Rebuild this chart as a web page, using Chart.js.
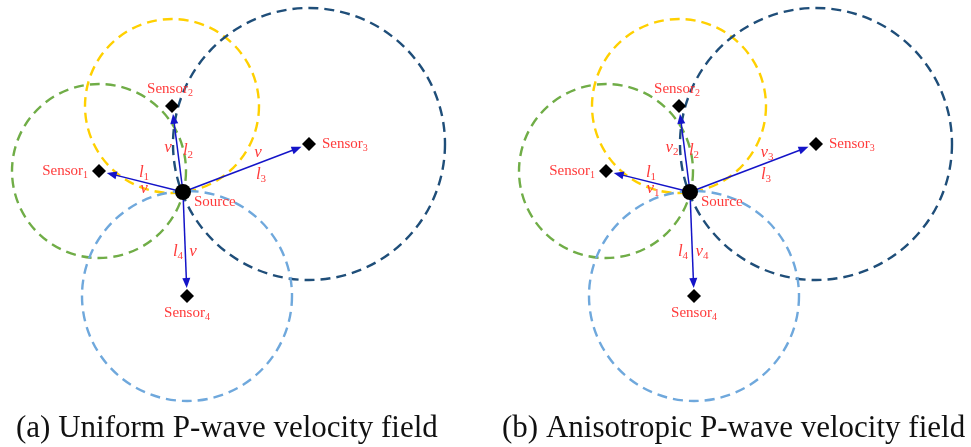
<!DOCTYPE html>
<html>
<head>
<meta charset="utf-8">
<script src="https://cdn.jsdelivr.net/npm/chart.js@4.4.1/dist/chart.umd.min.js"></script>
<style>
  html, body { margin: 0; padding: 0; background: #fff; }
  #wrap { display: flex; width: 971px; height: 447px; }
  canvas { display: block; }
</style>
</head>
<body>
<div id="wrap">
  <canvas id="chartA" width="485" height="447"></canvas>
  <canvas id="chartB" width="486" height="447"></canvas>
</div>
<script>
// sensor layout, source at origin (y up)
const sensorNames = ['Sensor', 'Sensor', 'Sensor', 'Sensor'];
const sensorSubs = ['1', '2', '3', '4'];
const sensorX = [-84, -11, 126, 4];
const sensorY = [21, 86, 48, -104];
const sourceX = [0];
const sourceY = [0];
// wavefront circle radius around each sensor
const circleR = [87, 87, 136, 105];
const circleColors = ['#70ad47', '#ffd000', '#1f4e79', '#6fa8dc'];
// path / velocity labels
const pathLabels = ['l', 'l', 'l', 'l'];
const pathSubs = ['1', '2', '3', '4'];
const velLabelsA = ['v', 'v', 'v', 'v'];
const velSubsA = ['', '', '', ''];
const velLabelsB = ['v', 'v', 'v', 'v'];
const velSubsB = ['1', '2', '3', '4'];
const captions = ['(a) Uniform P-wave velocity field', '(b) Anisotropic P-wave velocity field'];

const RED = '#ff3b3b';
const BLUE = '#1414c8';
const SERIF = '"Liberation Serif", "Times New Roman", serif';

// pixel offsets of the labels (relative to source / sensor pixels)
const pathOffA = [[-39, -19], [5, -41], [78, -17], [-5, 60]];
const velOffA = [[-39, -3], [-15, -44], [75, -39], [10, 60]];
const pathOffB = [[-39, -19], [4, -41], [76, -17], [-7, 60]];
const velOffB = [[-37, -3], [-18, -44], [77, -39], [12, 60]];
const sensorLabelOff = [[-11, 0, 'right'], [-2, -17, 'center'], [13, 0, 'left'], [0, 17, 'center']];

function drawSub(ctx, base, sub, x, y, baseFont, subFont, align) {
  ctx.font = baseFont;
  const w1 = ctx.measureText(base).width;
  ctx.font = subFont;
  const w2 = sub ? ctx.measureText(sub).width : 0;
  const w = w1 + w2;
  let left = x;
  if (align === 'center') left = x - w / 2;
  else if (align === 'right') left = x - w;
  ctx.textAlign = 'left';
  ctx.textBaseline = 'middle';
  ctx.font = baseFont;
  ctx.fillText(base, left, y);
  if (sub) {
    ctx.font = subFont;
    ctx.fillText(sub, left + w1, y + 4);
  }
}

const diagramPlugin = {
  id: 'diagram',
  beforeDatasetsDraw(chart) {
    const { ctx, scales: { x, y } } = chart;
    const sx = x.getPixelForValue(sourceX[0]);
    const sy = y.getPixelForValue(sourceY[0]);
    ctx.save();
    // dashed circles
    ctx.lineWidth = 2.4;
    ctx.setLineDash([10, 6]);
    circleR.forEach((r, i) => {
      const cx = x.getPixelForValue(sensorX[i]);
      const cy = y.getPixelForValue(sensorY[i]);
      const rx = Math.abs(x.getPixelForValue(sensorX[i] + r) - cx);
      const ry = Math.abs(y.getPixelForValue(sensorY[i] + r) - cy);
      ctx.strokeStyle = circleColors[i];
      ctx.beginPath();
      ctx.ellipse(cx, cy, rx, ry, 0, 0, Math.PI * 2);
      ctx.stroke();
    });
    // arrows
    ctx.setLineDash([]);
    ctx.strokeStyle = BLUE;
    ctx.fillStyle = BLUE;
    ctx.lineWidth = 1.5;
    sensorX.forEach((v, i) => {
      const ex = x.getPixelForValue(v);
      const ey = y.getPixelForValue(sensorY[i]);
      const a = Math.atan2(ey - sy, ex - sx);
      const tx = ex - Math.cos(a) * 8;
      const ty = ey - Math.sin(a) * 8;
      ctx.beginPath();
      ctx.moveTo(sx, sy);
      ctx.lineTo(tx - Math.cos(a) * 6, ty - Math.sin(a) * 6);
      ctx.stroke();
      ctx.beginPath();
      ctx.moveTo(tx, ty);
      ctx.lineTo(tx - Math.cos(a) * 10 + Math.sin(a) * 4, ty - Math.sin(a) * 10 - Math.cos(a) * 4);
      ctx.lineTo(tx - Math.cos(a) * 10 - Math.sin(a) * 4, ty - Math.sin(a) * 10 + Math.cos(a) * 4);
      ctx.closePath();
      ctx.fill();
    });
    ctx.restore();
  },
  afterDatasetsDraw(chart, args, opts) {
    const { ctx, scales: { x, y } } = chart;
    const sx = x.getPixelForValue(sourceX[0]);
    const sy = y.getPixelForValue(sourceY[0]);
    ctx.save();
    ctx.fillStyle = RED;
    const plain = '15px ' + SERIF;
    const small = '10px ' + SERIF;
    sensorNames.forEach((n, i) => {
      const px = x.getPixelForValue(sensorX[i]);
      const py = y.getPixelForValue(sensorY[i]);
      const o = sensorLabelOff[i];
      drawSub(ctx, n, sensorSubs[i], px + o[0], py + o[1], plain, small, o[2]);
    });
    drawSub(ctx, 'Source', '', sx + 11, sy + 10, plain, small, 'left');
    const ital = 'italic 17px ' + SERIF;
    const sub = '11px ' + SERIF;
    pathLabels.forEach((l, i) => {
      drawSub(ctx, l, pathSubs[i], sx + opts.pathOff[i][0], sy + opts.pathOff[i][1], ital, sub, 'center');
      drawSub(ctx, opts.vel[i], opts.velSub[i], sx + opts.velOff[i][0], sy + opts.velOff[i][1], ital, sub, 'center');
    });
    // caption
    ctx.fillStyle = '#111';
    ctx.font = '31px ' + SERIF;
    ctx.textAlign = 'left';
    ctx.textBaseline = 'alphabetic';
    ctx.fillText(opts.caption, opts.captionX, 437);
    ctx.restore();
  }
};

function makeChart(id, xMin, xMax, opts) {
  return new Chart(document.getElementById(id), {
    type: 'scatter',
    data: {
      datasets: [
        {
          label: 'Sensors',
          data: sensorX.map((v, i) => ({ x: v, y: sensorY[i] })),
          pointStyle: 'rectRot',
          pointRadius: 7,
          backgroundColor: '#000',
          borderColor: '#000',
          borderWidth: 0,
        },
        {
          label: 'Source',
          data: sourceX.map((v, i) => ({ x: v, y: sourceY[i] })),
          pointStyle: 'circle',
          pointRadius: 8,
          backgroundColor: '#000',
          borderColor: '#000',
          borderWidth: 0,
        },
      ],
    },
    options: {
      responsive: false,
      animation: false,
      layout: { padding: 0, autoPadding: false },
      scales: {
        x: { type: 'linear', min: xMin, max: xMax, display: false },
        y: { type: 'linear', min: -255, max: 192, display: false },
      },
      plugins: {
        legend: { display: false },
        tooltip: { enabled: false },
        diagram: opts,
      },
    },
    plugins: [diagramPlugin],
  });
}

makeChart('chartA', -183, 302, {
  pathOff: pathOffA, velOff: velOffA, vel: velLabelsA, velSub: velSubsA,
  caption: captions[0], captionX: 16,
});
makeChart('chartB', -205, 281, {
  pathOff: pathOffB, velOff: velOffB, vel: velLabelsB, velSub: velSubsB,
  caption: captions[1], captionX: 17,
});
</script>
</body>
</html>
